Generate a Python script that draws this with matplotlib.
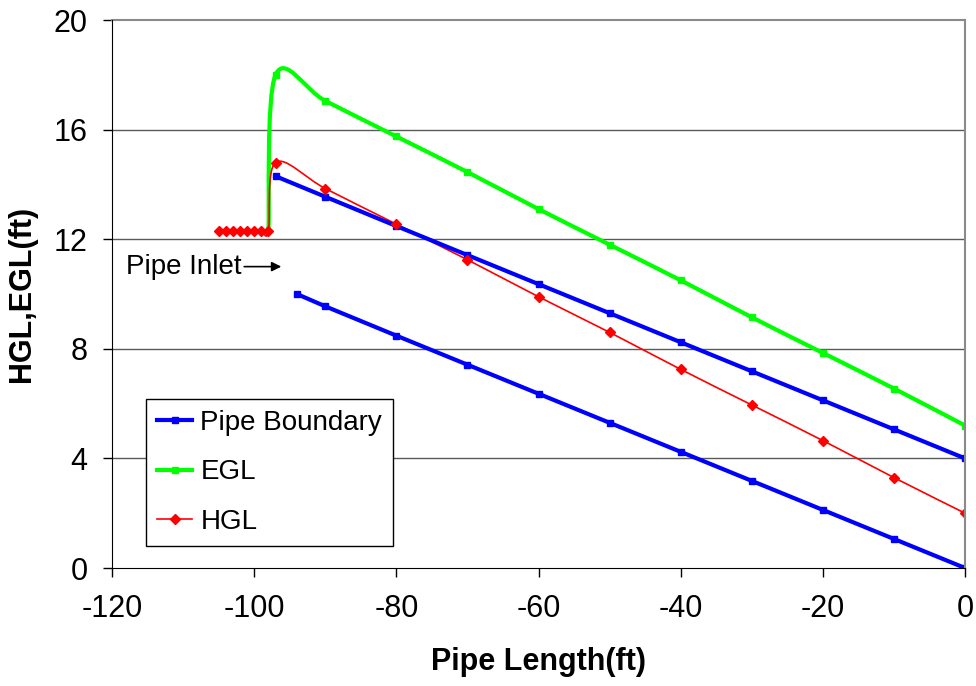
import numpy as np
import matplotlib.pyplot as plt
from matplotlib.path import Path
from matplotlib.patches import PathPatch

plt.rcParams['font.family'] = ['Liberation Sans', 'DejaVu Sans']
plt.rcParams['axes.unicode_minus'] = False

# pipe boundary (top and bottom)
top_x = [-97, -90, -80, -70, -60, -50, -40, -30, -20, -10, 0]
top_y = [14.3, 13.55, 12.48, 11.42, 10.36, 9.3, 8.24, 7.18, 6.12, 5.06, 4.0]
bot_x = [-94, -90, -80, -70, -60, -50, -40, -30, -20, -10, 0]
bot_y = [10.0, 9.55, 8.48, 7.42, 6.36, 5.3, 4.24, 3.18, 2.12, 1.06, 0.0]

# EGL
egl_x = [-98, -97, -90, -80, -70, -60, -50, -40, -30, -20, -10, 0]
egl_y = [12.3, 18.0, 17.05, 15.75, 14.45, 13.1, 11.8, 10.5, 9.15, 7.85, 6.55, 5.2]

# HGL
hgl_x = [-105, -104, -103, -102, -101, -100, -99, -98, -97, -90, -80, -70, -60, -50, -40, -30, -20, -10, 0]
hgl_y = [12.3] * 8 + [14.8, 13.85, 12.55, 11.25, 9.9, 8.6, 7.25, 5.95, 4.65, 3.3, 2.0]


def smooth_path(xs, ys):
    # excel-like smoothed line: bezier segments through the points
    pts = np.column_stack([xs, ys]).astype(float)
    n = len(pts)
    verts = [pts[0]]
    codes = [Path.MOVETO]
    for i in range(n - 1):
        p0 = pts[i - 1] if i > 0 else pts[i]
        p1 = pts[i]
        p2 = pts[i + 1]
        p3 = pts[i + 2] if i + 2 < n else pts[i + 1]
        c1 = p1 + (p2 - p0) / 6
        c2 = p2 - (p3 - p1) / 6
        verts += [c1, c2, p2]
        codes += [Path.CURVE4] * 3
    return Path(verts, codes)


fig = plt.figure(figsize=(9.76, 6.86), dpi=100)
ax = fig.add_axes([0.1148, 0.172, 0.874, 0.7988])

for v in [4, 8, 12, 16]:
    ax.axhline(v, color='#5a5a5a', lw=1.0, zorder=0)

# pipe boundary
ax.plot(top_x, top_y, color='#0000ff', lw=3, marker='s', ms=4.5, label='Pipe Boundary')
ax.plot(bot_x, bot_y, color='#0000ff', lw=3, marker='s', ms=4.5)

# EGL
ax.add_patch(PathPatch(smooth_path(egl_x, egl_y), fc='none', ec='#00ff00', lw=3))
ax.plot(egl_x[1:], egl_y[1:], ls='none', color='#00ff00', marker='s', ms=4.5)
ax.plot([], [], color='#00ff00', lw=3, marker='s', ms=4.5, label='EGL')

# HGL
ax.add_patch(PathPatch(smooth_path(hgl_x, hgl_y), fc='none', ec='#ff0000', lw=1.2))
ax.plot(hgl_x, hgl_y, ls='none', color='#ff0000', marker='D', ms=5)
ax.plot([], [], color='#ff0000', lw=1.2, marker='D', ms=5, label='HGL')

ax.annotate('', xy=(-95.8, 11.0), xytext=(-101.8, 11.0),
            arrowprops=dict(arrowstyle='-|>', color='black', lw=1.2, mutation_scale=14))
ax.text(-118, 11.0, 'Pipe Inlet', fontsize=20, va='center', ha='left')

ax.set_xlim(-120, 0)
ax.set_ylim(0, 20)
ax.set_xticks(range(-120, 1, 20))
ax.set_yticks(range(0, 21, 4))
ax.tick_params(labelsize=22, length=6.5, direction='out', width=1)
ax.tick_params(axis='x', pad=12)
ax.tick_params(axis='y', pad=11)
ax.spines['right'].set_color('#8a8a8a')
ax.spines['right'].set_linewidth(1.5)
ax.spines['top'].set_visible(False)
ax.axhline(20, color='#8a8a8a', lw=1.5, clip_on=False)

ax.set_xlabel('Pipe Length(ft)', fontsize=22, fontweight='bold', labelpad=17)
ax.set_ylabel('HGL,EGL(ft)', fontsize=22, fontweight='bold', labelpad=12)

leg = ax.legend(loc='lower left', bbox_to_anchor=(0.04, 0.04), borderaxespad=0,
                fontsize=20, frameon=True, fancybox=False, edgecolor='black',
                framealpha=1, handlelength=1.25, borderpad=0.4, labelspacing=0.85,
                handletextpad=0.3)
leg.get_frame().set_linewidth(1.0)

fig.savefig('out.png', dpi=100)
